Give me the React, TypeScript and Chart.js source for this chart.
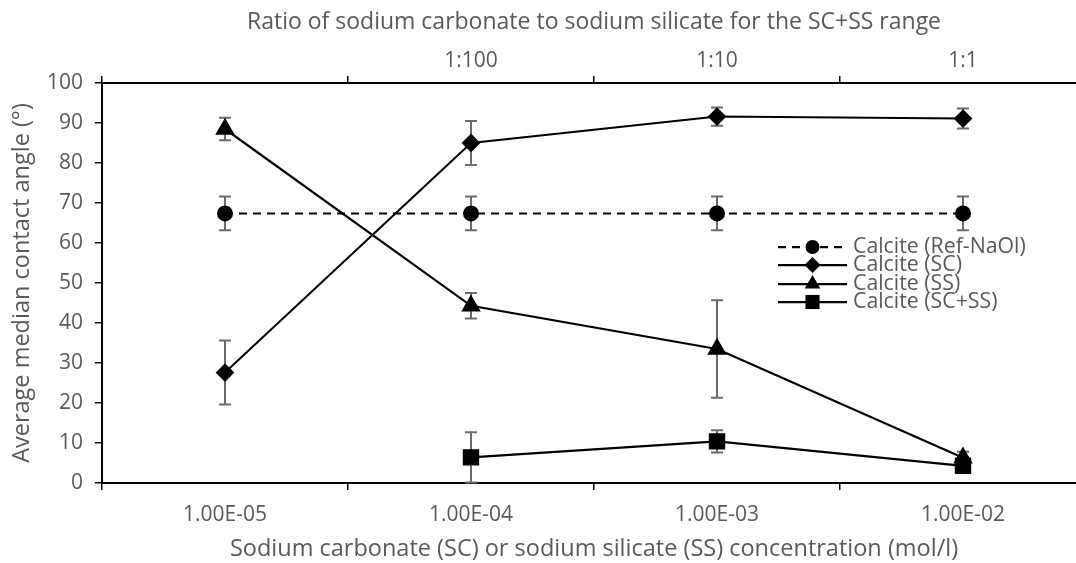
import React, { useEffect, useRef } from "react";
import { Chart, registerables } from "chart.js";

Chart.register(...registerables);

const categories = ["1.00E-05", "1.00E-04", "1.00E-03", "1.00E-02"];
const ratioLabels = ["", "1:100", "1:10", "1:1"];

const refValues = [67.4, 67.4, 67.4, 67.4];
const refErrors = [4.2, 4.2, 4.2, 4.2];
const scValues = [27.6, 85.0, 91.6, 91.1];
const scErrors = [8.0, 5.5, 2.3, 2.5];
const ssValues = [88.5, 44.3, 33.5, 6.3];
const ssErrors = [2.8, 3.2, 12.2, 1.5];
const scssValues: (number | null)[] = [null, 6.4, 10.4, 4.3];
const scssErrors: (number | null)[] = [null, 6.3, 2.8, 1.0];

const seriesNames = ["Calcite (Ref-NaOl)", "Calcite (SC)", "Calcite (SS)", "Calcite (SC+SS)"];

const yTitle = "Average median contact angle (°)";
const xTitle = "Sodium carbonate (SC) or sodium silicate (SS) concentration (mol/l)";
const x2Title = "Ratio of sodium carbonate to sodium silicate for the SC+SS range";

const FONT = "'Open Sans', sans-serif";
const TEXT = "#595959";

const errorSets = [refErrors, scErrors, ssErrors, scssErrors];
const styles = ["circle", "rectRot", "triangle", "rect"];
const radii = [7, 8, 9, 10];

function drawMarker(ctx: CanvasRenderingContext2D, style: string, x: number, y: number, r: number) {
  ctx.beginPath();
  if (style === "circle") {
    ctx.arc(x, y, r, 0, Math.PI * 2);
  } else if (style === "rectRot") {
    ctx.moveTo(x, y - r);
    ctx.lineTo(x + r, y);
    ctx.lineTo(x, y + r);
    ctx.lineTo(x - r, y);
    ctx.closePath();
  } else if (style === "triangle") {
    ctx.moveTo(x, y - r);
    ctx.lineTo(x + r * 0.866, y + r * 0.5);
    ctx.lineTo(x - r * 0.866, y + r * 0.5);
    ctx.closePath();
  } else {
    const s = r * Math.SQRT1_2;
    ctx.rect(x - s, y - s, 2 * s, 2 * s);
  }
  ctx.fillStyle = "#000";
  ctx.fill();
}

const errorBarPlugin = {
  id: "errorBars",
  beforeDatasetsDraw(chart: any) {
    const ctx = chart.ctx as CanvasRenderingContext2D;
    const y = chart.scales.y;
    ctx.save();
    ctx.strokeStyle = "#6b6b6b";
    ctx.lineWidth = 2;
    chart.data.datasets.forEach((ds: any, i: number) => {
      const meta = chart.getDatasetMeta(i);
      const errs = errorSets[i];
      ds.data.forEach((v: number | null, j: number) => {
        const e = errs[j];
        if (v == null || e == null) return;
        const px = meta.data[j].x;
        const top = y.getPixelForValue(v + e);
        const bot = y.getPixelForValue(v - e);
        ctx.beginPath();
        ctx.moveTo(px, top);
        ctx.lineTo(px, bot);
        ctx.moveTo(px - 6, top);
        ctx.lineTo(px + 6, top);
        ctx.moveTo(px - 6, bot);
        ctx.lineTo(px + 6, bot);
        ctx.stroke();
      });
    });
    ctx.restore();
  },
};

const legendPlugin = {
  id: "customLegend",
  afterDraw(chart: any) {
    const ctx = chart.ctx as CanvasRenderingContext2D;
    const x0 = 778;
    const x1 = 847;
    const xm = (x0 + x1) / 2;
    const rows = [247, 265, 284, 302];
    ctx.save();
    seriesNames.forEach((name, i) => {
      const yy = rows[i];
      ctx.strokeStyle = "#000";
      ctx.lineWidth = 2.25;
      ctx.setLineDash(i === 0 ? [8, 6] : []);
      ctx.beginPath();
      ctx.moveTo(x0, yy);
      ctx.lineTo(x1, yy);
      ctx.stroke();
      ctx.setLineDash([]);
      drawMarker(ctx, styles[i], xm, yy, radii[i]);
      ctx.fillStyle = TEXT;
      ctx.font = `21.3px ${FONT}`;
      ctx.textBaseline = "middle";
      ctx.textAlign = "left";
      ctx.fillText(name, 853, yy);
    });
    ctx.restore();
  },
};

export default function App() {
  const ref = useRef<HTMLCanvasElement>(null);

  useEffect(() => {
    if (!ref.current) return;
    const tickFont = { family: FONT, size: 21 };
    const titleFont = { family: FONT, size: 23.5 };
    const topTitleFont = { family: FONT, size: 23 };
    const gridOpts = {
      offset: true,
      drawOnChartArea: false,
      drawTicks: true,
      tickLength: 7,
      color: "#000",
      lineWidth: 1.5,
    };
    const borderOpts = { display: true, color: "#000", width: 2 };
    const chart = new Chart(ref.current, {
      type: "line",
      data: {
        labels: categories,
        datasets: [
          {
            label: seriesNames[0],
            data: refValues,
            borderColor: "#000",
            backgroundColor: "#000",
            borderWidth: 2,
            borderDash: [8, 6],
            pointStyle: "circle",
            pointRadius: radii[0],
            xAxisID: "x",
            yAxisID: "y",
          },
          {
            label: seriesNames[1],
            data: scValues,
            borderColor: "#000",
            backgroundColor: "#000",
            borderWidth: 2,
            pointStyle: "rectRot",
            pointRadius: radii[1],
            xAxisID: "x",
            yAxisID: "y",
          },
          {
            label: seriesNames[2],
            data: ssValues,
            borderColor: "#000",
            backgroundColor: "#000",
            borderWidth: 2.25,
            pointStyle: "triangle",
            pointRadius: radii[2],
            xAxisID: "x",
            yAxisID: "y",
          },
          {
            label: seriesNames[3],
            data: scssValues,
            borderColor: "#000",
            backgroundColor: "#000",
            borderWidth: 2.25,
            pointStyle: "rect",
            pointRadius: radii[3],
            xAxisID: "x2",
            yAxisID: "y",
          },
        ],
      },
      options: {
        responsive: false,
        animation: false,
        devicePixelRatio: 1,
        layout: { padding: 0, autoPadding: false },
        plugins: {
          legend: { display: false },
          tooltip: { enabled: false },
        },
        elements: {
          line: { tension: 0 },
          point: { borderWidth: 0 },
        },
        scales: {
          x: {
            type: "category",
            position: "bottom",
            offset: true,
            grid: gridOpts,
            border: borderOpts,
            ticks: { color: TEXT, font: tickFont, padding: 12, maxRotation: 0, autoSkip: false },
            title: { display: true, text: xTitle, color: TEXT, font: titleFont, padding: { top: 0, bottom: 0 } },
            afterFit: (s: any) => {
              s.height = 80;
            },
          },
          x2: {
            type: "category",
            position: "top",
            labels: ratioLabels,
            offset: true,
            grid: gridOpts,
            border: borderOpts,
            ticks: { color: TEXT, font: tickFont, padding: 2, maxRotation: 0, autoSkip: false },
            title: { display: true, text: x2Title, color: TEXT, font: topTitleFont, padding: { top: 9, bottom: 0 } },
            afterFit: (s: any) => {
              s.height = 83;
            },
          },
          y: {
            min: 0,
            max: 100,
            grid: { drawOnChartArea: false, drawTicks: true, tickLength: 7, color: "#000", lineWidth: 1.5 },
            border: borderOpts,
            ticks: { stepSize: 10, color: TEXT, font: tickFont, padding: 12 },
            title: { display: true, text: yTitle, color: TEXT, font: titleFont, padding: { top: 8, bottom: 0 } },
            afterFit: (s: any) => {
              s.width = 102;
            },
          },
        },
      },
      plugins: [errorBarPlugin, legendPlugin],
    } as any);
    return () => chart.destroy();
  }, []);

  return (
    <div
      style={{
        position: "fixed",
        left: 0,
        top: 0,
        width: 1076,
        height: 563,
        overflow: "hidden",
        background: "#fff",
      }}
    >
      <canvas ref={ref} width={1086} height={563} style={{ width: 1086, height: 563, display: "block" }} />
    </div>
  );
}
